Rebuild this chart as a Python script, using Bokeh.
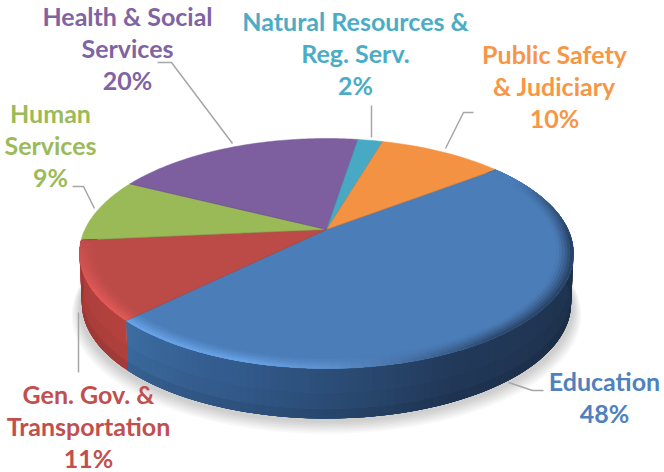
import numpy as np
from bokeh.plotting import figure
from bokeh.models import Range1d
from bokeh.embed import file_html
from bokeh.resources import INLINE
from bokeh.core.properties import value

categories = ["Education", "Gen. Gov. &\nTransportation", "Human\nServices",
              "Health & Social\nServices", "Natural Resources &\nReg. Serv.",
              "Public Safety\n& Judiciary"]
shares = [48, 11, 9, 20, 2, 10]

top_colors = ["#4B7DB8", "#BC4B48", "#9ABA57", "#7D5F9F", "#47A9C4", "#F39242"]
text_colors = ["#4F81BD", "#C0504D", "#9BBB59", "#8064A2", "#4BACC6", "#F79646"]
start_angle = 37.8

# layout of the tilted disc (pixels of the page)
CX, CY, A, B, C, DEPTH = 326.0, 229.0, 110.0, 241.6, 0.2087, 50.0


def proj(r, t, drop=0.0, xs=1.0):
    u = r * np.cos(np.radians(t))
    v = r * np.sin(np.radians(t))
    d = 1 + C * v
    return CX + xs * B * u / d, CY - A * v / d + drop


def hex2rgb(h):
    return np.array([int(h[i:i + 2], 16) for i in (1, 3, 5)], dtype=float)


def rgb2hex(c):
    return "#%02x%02x%02x" % tuple(int(round(x)) for x in np.clip(c, 0, 255))


def ramp(stops, t):
    ts = [s[0] for s in stops]
    cols = np.array([hex2rgb(s[1]) for s in stops])
    return np.array([np.interp(t, ts, cols[:, i]) for i in range(3)])


side_stops = {
    0: [(-135, "#3C6CA1"), (-105, "#32598A"), (-85, "#2A4A72"), (-65, "#22395A"), (-30, "#1F3450"), (40, "#1F3450")],
    1: [(-175, "#A83C3A"), (-150, "#B0403D"), (-135, "#B4423F")],
}
rim_stops = {
    0: [(-135, "#6AA5EA"), (-105, "#6AA5EA"), (-88, "#5D90CC"), (-72, "#43699A"),
        (-55, "#2B4568"), (-5, "#25395A"), (15, "#35577F"), (30, "#4B7DB8"), (40, "#4B7DB8")],
    1: [(-175, "#C04D4A"), (-165, "#D05350"), (-150, "#E25B59"), (-135, "#E25B59")],
}

p = figure(width=664, height=472, output_backend="svg", toolbar_location=None,
           x_range=Range1d(0, 664), y_range=Range1d(472, 0), min_border=0,
           outline_line_color=None, background_fill_color="white",
           border_fill_color="white")
p.axis.visible = False
p.grid.visible = False

# soft shadow below the disc
arc = np.linspace(0, 360, 181)
for i, (grow, off) in enumerate(zip([1.03, 1.025, 1.02, 1.015, 1.01, 1.005, 1.0],
                                    [15, 14, 13, 12, 11, 10, 9])):
    sx, sy = proj(grow, arc, DEPTH + off - 5)
    p.patch(sx, sy, fill_color="#000000", fill_alpha=0.028, line_color=None)

# slice angles come from the shares
angles = [start_angle]
for s in shares:
    angles.append(angles[-1] - s / sum(shares) * 360.0)

# side wall: each piece overlaps the next, painted in order, so no seams show
xs, ys, cols = [], [], []
for i in (0, 1):
    a0, a1 = angles[i], angles[i + 1]
    n = int(abs(a1 - a0) / 1.5) + 1
    tt = np.linspace(a0, a1, n + 1)
    for j in range(n):
        tm = (tt[j] + tt[j + 1]) / 2
        end = tt[min(j + 2, n)]
        base = ramp(side_stops[i], tm)
        for row, (d0, d1, k) in enumerate([(0, 1.0, 1.0), (.5, 1.0, .97), (.82, 1.0, .9)]):
            x0, y0 = proj(1, tt[j], DEPTH * d0, 1 - .01 * d0)
            x1, y1 = proj(1, end, DEPTH * d0, 1 - .01 * d0)
            x2, y2 = proj(1, end, DEPTH * d1, 1 - .01 * d1)
            x3, y3 = proj(1, tt[j], DEPTH * d1, 1 - .01 * d1)
            xs.append([x0, x1, x2, x3])
            ys.append([y0, y1, y2, y3])
            cols.append(rgb2hex(base * k))
# paint rows in order of depth so the darker lower rows stay on top
order = sorted(range(len(xs)), key=lambda q: q % 3)
p.patches([xs[q] for q in order], [ys[q] for q in order],
          fill_color=[cols[q] for q in order], line_color=None)

# top face
for i in range(len(shares)):
    tt = np.linspace(angles[i], angles[i + 1], max(int(abs(angles[i + 1] - angles[i])), 2) + 1)
    ex, ey = proj(1, tt)
    p.patch([CX] + list(ex), [CY] + list(ey), fill_color=top_colors[i],
            line_color=top_colors[i], line_width=0.5)

# bevel along the visible rim
xs, ys, cols = [], [], []
RINGS = 6
INNER = 0.935
for i in (0, 1):
    a0, a1 = angles[i], angles[i + 1]
    n = int(abs(a1 - a0) / 2) + 1
    tt = np.linspace(a0, a1, n + 1)
    basec = hex2rgb(top_colors[i])
    for j in range(n):
        tm = (tt[j] + tt[j + 1]) / 2
        end = tt[min(j + 2, n)]
        outer = ramp(rim_stops[i], tm)
        for k in range(RINGS):
            r0 = INNER + (1 - INNER) * k / RINGS
            f = ((k + .5) / RINGS) ** 1.3
            x0, y0 = proj(r0, tt[j])
            x1, y1 = proj(r0, end)
            x2, y2 = proj(1, end)
            x3, y3 = proj(1, tt[j])
            xs.append([x0, x1, x2, x3])
            ys.append([y0, y1, y2, y3])
            cols.append(rgb2hex(basec + (outer - basec) * f))
order = sorted(range(len(xs)), key=lambda q: q % RINGS)
p.patches([xs[q] for q in order], [ys[q] for q in order],
          fill_color=[cols[q] for q in order], line_color=None)

# faint seams between slices
for a in angles[:-1]:
    ex, ey = proj(1, a)
    p.line([CX, ex], [CY, ey], line_color="#000000", line_alpha=0.12, line_width=1)

# leader lines
leader_x = [[508, 532, 543], [78, 78], [72, 83, 94], [157, 171, 232], [371, 371], [473, 463, 445]]
leader_y = [[382, 390, 390], [312, 372], [186, 186, 208], [62, 62, 143], [105, 137], [112, 112, 148]]
p.multi_line(leader_x, leader_y, line_color="#A6A6A6", line_width=1.5)

# labels
label_x = [604, 88, 50, 127, 355, 554]
label_y = [380, 393, 112, 15, 20, 53]
line_gap = 32
tx, ty, tt_, tc = [], [], [], []
for i, (name, s) in enumerate(zip(categories, shares)):
    lines = name.split("\n") + [f"{s}%"]
    for k, ln in enumerate(lines):
        tx.append(label_x[i])
        ty.append(label_y[i] + k * line_gap)
        tt_.append(ln)
        tc.append(text_colors[i])
p.text(tx, ty, text=tt_, text_color=tc, text_align="center", text_baseline="middle",
       text_font=value("Lato"), text_font_style="bold", text_font_size="25px")

open("out.html", "w").write(file_html(p, INLINE))
